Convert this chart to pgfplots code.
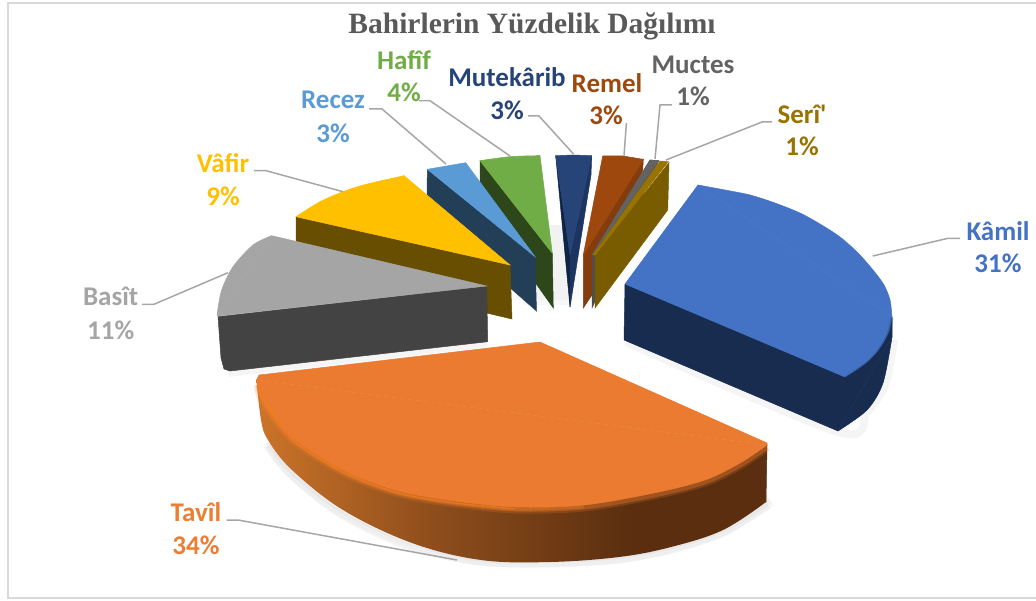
\documentclass[border=0pt]{standalone}
\usepackage{pgfplots}
\pgfplotsset{compat=1.18}
\usepackage{fontspec}
\setmainfont[Ligatures=TeXOff]{Carlito}
\newfontfamily\titlefont{Liberation Serif}
\definecolor{cBlue}{HTML}{4472C4}\definecolor{cBlueD}{HTML}{182C4F}
\definecolor{cOr}{HTML}{ED7D31}\definecolor{cTop}{HTML}{EA7B30}
\definecolor{cGr}{HTML}{A5A5A5}\definecolor{cGrD}{HTML}{434343}
\definecolor{cYe}{HTML}{FFC000}\definecolor{cYeD}{HTML}{674E00}
\definecolor{cSky}{HTML}{5B9BD5}\definecolor{cSkyD}{HTML}{233F58}
\definecolor{cGn}{HTML}{70AD47}\definecolor{cGnD}{HTML}{2D471B}
\definecolor{cNavy}{HTML}{264478}\definecolor{cNavyD}{HTML}{0F2344}\definecolor{cNavyM}{HTML}{1C3560}
\definecolor{cBr}{HTML}{9E480E}\definecolor{cBrD}{HTML}{843C0C}
\definecolor{cMu}{HTML}{636363}\definecolor{cMuD}{HTML}{4E4E4E}
\definecolor{cGo}{HTML}{997300}\definecolor{cGoD}{HTML}{7A5C00}
\definecolor{cLead}{HTML}{A6A6A6}\definecolor{cFrame}{HTML}{D9D9D9}\definecolor{cTitle}{HTML}{595959}
\definecolor{orA}{HTML}{CC7429}\definecolor{orB}{HTML}{8F4E1C}\definecolor{orC}{HTML}{5A2E0F}
\pgfdeclarehorizontalshading{orside}{100bp}{color(0bp)=(orA);color(25bp)=(orA);color(42bp)=(orB);color(62bp)=(orC);color(75bp)=(orC);color(100bp)=(orC)}
\newcommand\poly[2]{\addplot[fill=#1,draw=#1,line width=.5pt,forget plot] coordinates {#2} --cycle;}
\newcommand\arcfill[2]{\addplot[smooth,fill=#1,draw=#1,line width=.5pt,forget plot] coordinates {#2};}
\newcommand\lead[1]{\addplot[draw=cLead,line width=1.5pt,forget plot] coordinates {#1};}
\newcommand\soft[3]{\addplot[smooth,draw=black,line width=#1pt,opacity=#2,forget plot] coordinates {#3};}
\newcommand\lab[4]{\node[text=#1,font=\fontsize{27}{27}\selectfont\bfseries,anchor=center] at (axis cs:#2,#3) {#4};}
\begin{document}
\begin{tikzpicture}
\begin{axis}[scale only axis,width=1036pt,height=601pt,xmin=0,xmax=1036,ymin=0,ymax=601,y dir=reverse,hide axis,clip=true]
% full page extent
\addplot[draw=white,line width=0.2pt,forget plot] coordinates {(0,0)(1036,0)(1036,601)(0,601)(0,0)};
% frame
\addplot[draw=cFrame,line width=2pt,forget plot] coordinates {(1036,3)(7.5,3)(7.5,598)(1036,598)};
% soft shadows
\soft{22}{.025}{(272,440)(292,466)(343,506)(412,538)(481,555)(550,556)(619,552)(671,542)(723,525)(768,497)}
\soft{14}{.03}{(272,440)(292,466)(343,506)(412,538)(481,555)(550,556)(619,552)(671,542)(723,525)(768,497)}
\soft{7}{.04}{(268,446)(292,476)(343,516)(412,548)(481,562)(550,564)(619,560)(671,550)(723,533)(768,505)}
\soft{10}{.04}{(228,372)(487,342)}
\soft{8}{.04}{(626,342)(838,432)(867,412)(885,385)(894,340)}
\soft{80}{.02}{(545,225)(545,300)}
\soft{50}{.03}{(548,225)(548,305)}
% Hafif, Recez
\poly{cGnD}{(480,160.7)(480,205)(553.3,308)(552.3,253.3)}
\poly{cGn}{(552.3,253.3)(480,160.7)(540,155.7)}
\arcfill{cGn}{(480,160.7)(495,158.5)(510,156.7)(525,156)(540,155.7)}
\poly{cSkyD}{(427.3,169.3)(535,256.7)(536.5,311)(427,215)}
\poly{cSky}{(535,256.7)(427.3,169.3)(446.7,166)(465.7,162.7)}
% Mutekarib
\poly{cNavyD}{(555.7,155.7)(570,307)(570,255)}
\poly{cNavyM}{(591.7,155.7)(591,175)(570,307)(570,255)}
\poly{cNavy}{(570,255)(555.7,155.7)(573,155)(591.7,155.7)}
% Remel
\poly{cBrD}{(583.3,255)(643.3,159.5)(642.7,170)(592,295)(583.3,308)}
\poly{cBr}{(583.3,255)(602.7,156)(623,156)(643.3,159.3)}
% Muctes
\poly{cMuD}{(592,255)(650,160)(658.7,160.7)(592,308)}
\poly{cMu}{(592,255)(650,160)(658.7,160.7)}
% Seri
\poly{cGoD}{(595,255)(669,162.7)(667.7,210)(595,308)}
\poly{cGo}{(593,255)(660,161)(668.3,161.7)(595,255)}
% Vafir
\poly{cYeD}{(296,216.7)(510,265)(512,319)(296,268)}
\poly{cYe}{(510,265)(296,216.7)(404,175.7)}
\arcfill{cYe}{(296,216.7)(320,201.7)(343,191.7)(360,186)(377,181.7)(404,175.7)}
% Basit
\poly{cGrD}{(218,316.7)(486.7,286)(487.7,341.7)(230,371)(224,369)(221,358)}
\poly{cGr}{(486.7,286)(218,316)(271.7,235.7)}
\arcfill{cGr}{(218,316)(217.3,313)(221.7,290)(233,266.7)(253,245)(271.7,235.7)}
\addplot[smooth,draw=gray!70,line width=1.5pt,opacity=.5,forget plot] coordinates {(218.5,312)(222.7,290)(234,267)(250,249)};
% Kamil
\poly{cBlueD}{(625,284)(624,340)(838,431)(892,337)(892,317)}
\arcfill{cBlueD}{(838,431)(867,410)(883,383)(892,337)}
\poly{cBlue}{(625,284)(698,185)(892,317)(845,377)}
\arcfill{cBlue}{(698,185)(725,190)(750,195)(775,203)(800,213)(820,224)(840,237)(858,253)(873,270)(884,285)(890,300)(892,317)}
\arcfill{cBlue}{(892,317)(889,331)(883,343)(876,353)(867,362)(856,370)(845,377)}
\addplot[smooth,draw=cBlueD,line width=3pt,opacity=.25,forget plot] coordinates {(892,318)(889,332)(883,344)(876,354)(867,363)(856,371)(845,378)};
% Tavil
\poly{orC}{(767,445)(766,502)(640,480)}
\addplot[smooth,tension=0.6,draw=none,shading=orside,forget plot] coordinates {(256.5,380)(261,420)(268,440)(292,470)(343,510)(412,543)(481,560)(550,562)(619,557)(671,547)(723,530)(766,502)};
\addplot[smooth,draw=cOr,line width=9pt,opacity=.2,forget plot] coordinates {(258,385)(265,405)(292,439)(343,472)(395,492)(447,502)(515,509)(584,507)(654,495)(705,482)(740,465)(767,447)};
\addplot[smooth,draw=cOr,line width=5pt,opacity=.35,forget plot] coordinates {(258,385)(265,405)(292,439)(343,472)(395,492)(447,502)(515,509)(584,507)(654,495)(705,482)(740,465)(767,447)};
\poly{cTop}{(540,342)(767,443)(767,445)(256.5,380)(259,375)}
\arcfill{cTop}{(256.5,380)(264,403)(292,437)(343,470)(395,490)(447,500)(515,507)(584,505)(654,493)(705,480)(740,463)(767,445)}
\addplot[smooth,draw=orange!45!cOr,line width=3pt,opacity=.35,forget plot] coordinates {(258,385)(265,405)(292,439)(343,472)(395,492)(447,502)(515,509)(584,507)};
\addplot[smooth,draw=orange!45!cOr,line width=1.4pt,opacity=.6,forget plot] coordinates {(262,395)(292,439)(343,472)(395,492)(447,502)(515,509)};
% leaders
\lead{(419,100.7)(430,100.7)(510,156)}
\lead{(369,109)(382,109)(446,164)}
\lead{(528,116)(539,116)(573.5,154)}
\lead{(626.4,123)(624,155.7)}
\lead{(672,105)(660,105)(655,159)}
\lead{(772,122)(762,122)(666,160)}
\lead{(254,170.7)(266,170.7)(343,191.7)}
\lead{(142,304.3)(154,304.3)(228,272.7)}
\lead{(960,238.3)(948,238.3)(872.7,256)}
\lead{(226.7,520)(238,520)(457,560)}
% title
\node[text=cTitle,font=\fontsize{29.5}{29.5}\selectfont\titlefont\bfseries] at (axis cs:532,26) {Bahirlerin Yüzdelik Dağılımı};
\lab{cGn}{404}{60}{Hafîf}\lab{cGn}{404}{92}{4\%}
\lab{cNavy}{507}{77}{Mutekârib}\lab{cNavy}{507}{110}{3\%}
\lab{cBr}{607}{83}{Remel}\lab{cBr}{606}{115}{3\%}
\lab{cMu}{693}{65}{Muctes}\lab{cMu}{693}{96}{1\%}
\lab{cGo}{802}{114}{Serî'}\lab{cGo}{802}{146}{1\%}
\lab{cSky}{333}{100}{Recez}\lab{cSky}{333}{133}{3\%}
\lab{cYe}{223}{163}{Vâfir}\lab{cYe}{223}{196}{9\%}
\lab{cGr}{110.7}{296}{Basît}\lab{cGr}{110.7}{330}{11\%}
\lab{cBlue}{998}{231}{Kâmil}\lab{cBlue}{998}{263}{31\%}
\lab{cOr}{196}{512}{Tavîl}\lab{cOr}{196}{545}{34\%}
\end{axis}
\end{tikzpicture}
\end{document}
